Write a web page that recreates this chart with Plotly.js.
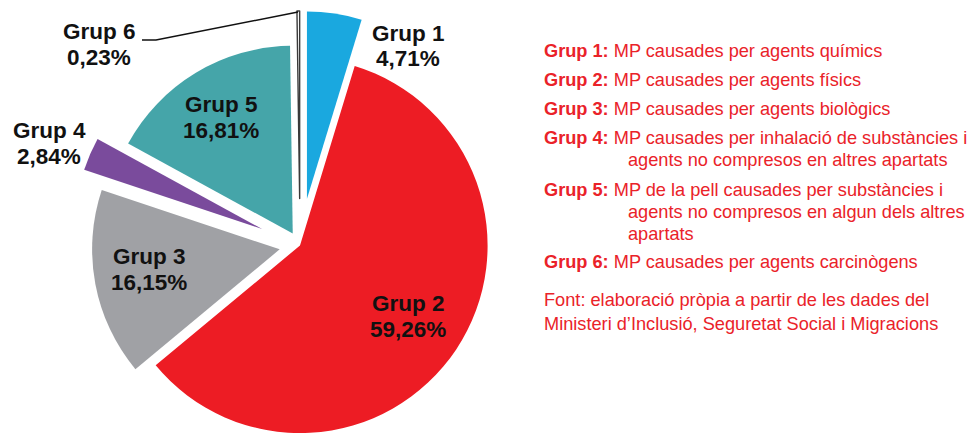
<!DOCTYPE html>
<html>
<head>
<meta charset="utf-8">
<script src="https://cdn.plot.ly/plotly-3.0.1.min.js"></script>
<style>
html,body{margin:0;padding:0;background:#fff;width:967px;height:434px;overflow:hidden;}
#wrap{width:967px;height:434px;overflow:hidden;position:relative;}
#chart{width:967px;height:480px;}
</style>
</head>
<body>
<div id="wrap"><div id="chart"></div></div>
<script>
// ---- data ----
var groups = ["Grup 1", "Grup 2", "Grup 3", "Grup 4", "Grup 5", "Grup 6"];
var shares = [4.71, 59.26, 16.15, 2.84, 16.81, 0.23];
var sliceColors = ["#1aa8df", "#ed1c24", "#a0a1a5", "#7a4b9c", "#45a5a9", "#ffffff"];
var pulls = [0.25, 0.0, 0.11, 0.22, 0.075, 0.25];
var legendHeads = ["Grup 1:", "Grup 2:", "Grup 3:", "Grup 4:", "Grup 5:", "Grup 6:"];
var legendTexts = [
  ["MP causades per agents químics"],
  ["MP causades per agents físics"],
  ["MP causades per agents biològics"],
  ["MP causades per inhalació de substàncies i", "agents no compresos en altres apartats"],
  ["MP de la pell causades per substàncies i", "agents no compresos en algun dels altres", "apartats"],
  ["MP causades per agents carcinògens"]
];
var sourceLines = ["Font: elaboració pròpia a partir de les dades del", "Ministeri d\u2019Inclusió, Seguretat Social i Migracions"];

// ---- layout helpers (pixel -> paper) ----
var W = 967, H = 480;
function px(x){ return x / W; }
function py(y){ return 1 - y / H; }

var RED = "#ea2229";
var LBL = {family: "Liberation Sans, Arial, sans-serif", size: 22.5, color: "#111"};
var annotations = [];

// slice label block centres: [cx, cy]
var labelPos = [
  [408, 46],
  [408, 316.5],
  [149, 269.5],
  [49, 143.5],
  [221, 117.5],
  [99, 44.5]
];
var HALF = 12.75;
function fmt(v){ return v.toFixed(2).replace(".", ",") + "%"; }
for (var i = 0; i < groups.length; i++) {
  var p = labelPos[i];
  annotations.push({xref:"paper", yref:"paper", x:px(p[0]), y:py(p[1] - HALF), xanchor:"center", yanchor:"middle",
    text:"<b>" + groups[i] + "</b>", showarrow:false, font:LBL, borderpad:0});
  annotations.push({xref:"paper", yref:"paper", x:px(p[0]), y:py(p[1] + HALF), xanchor:"center", yanchor:"middle",
    text:"<b>" + fmt(shares[i]) + "</b>", showarrow:false, font:LBL, borderpad:0});
}

// legend text on the right
var LEG = {family: "Liberation Sans, Arial, sans-serif", size: 18.2, color: RED};
var legY = [[51], [80], [109], [138, 160], [190, 212, 234], [262]];
for (var g = 0; g < legendHeads.length; g++) {
  for (var k = 0; k < legendTexts[g].length; k++) {
    if (k === 0) {
      annotations.push({xref:"paper", yref:"paper", x:px(543), y:py(legY[g][0]), xanchor:"left", yanchor:"middle",
        text:"<b>" + legendHeads[g] + "</b> " + legendTexts[g][0], showarrow:false, font:LEG, borderpad:0});
    } else {
      annotations.push({xref:"paper", yref:"paper", x:px(627), y:py(legY[g][k]), xanchor:"left", yanchor:"middle",
        text:legendTexts[g][k], showarrow:false, font:LEG, borderpad:0});
    }
  }
}
var srcY = [300, 324];
for (var s = 0; s < sourceLines.length; s++) {
  annotations.push({xref:"paper", yref:"paper", x:px(543), y:py(srcY[s]), xanchor:"left", yanchor:"middle",
    text:sourceLines[s], showarrow:false, font:LEG, borderpad:0});
}

var trace = {
  type: "pie",
  labels: groups,
  values: shares,
  sort: false,
  direction: "clockwise",
  rotation: 0,
  pull: pulls,
  textinfo: "none",
  hoverinfo: "skip",
  showlegend: false,
  marker: {
    colors: sliceColors,
    line: {color: ["#fff", "#fff", "#fff", "#fff", "#fff", "#3a3a3a"], width: [0, 0, 0, 0, 0, 1.4]}
  },
  domain: {x: [0, 600 / W], y: [0, 469 / H]}
};

var layout = {
  width: W,
  height: H,
  margin: {l: 0, r: 0, t: 0, b: 0},
  paper_bgcolor: "#fff",
  plot_bgcolor: "#fff",
  separators: ",.",
  showlegend: false,
  annotations: annotations,
  shapes: [
    {type: "path", xref: "paper", yref: "paper",
     path: "M " + px(142) + "," + py(40) + " L " + px(156) + "," + py(40) + " L " + px(298) + "," + py(12),
     line: {color: "#111", width: 1.5}}
  ]
};

Plotly.newPlot("chart", [trace], layout, {displayModeBar: false, staticPlot: true});
</script>
</body>
</html>
